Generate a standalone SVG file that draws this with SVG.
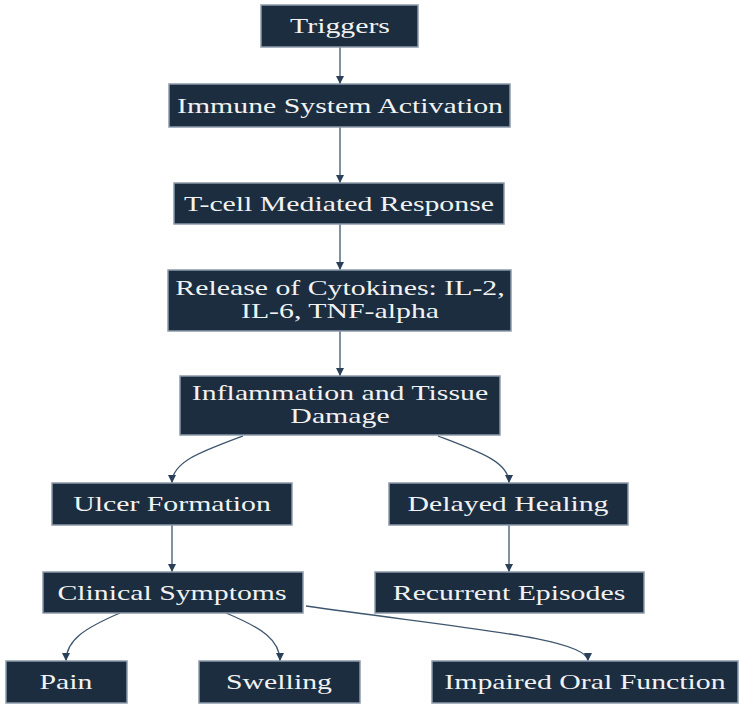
<svg xmlns="http://www.w3.org/2000/svg" width="739" height="704" viewBox="0 0 739 704">
<defs>
<style>
.box{fill:#1b2d3f;stroke:#8c9aab;stroke-width:1.5}
.lbl{font-family:"Liberation Serif","Times New Roman",serif;font-size:21px;fill:#f2f2f2;text-anchor:middle}
.edge{fill:none;stroke:#3e566e;stroke-width:1.3}
</style>
<marker id="ah" viewBox="0 0 10 10" refX="10" refY="5" markerWidth="10" markerHeight="8" markerUnits="userSpaceOnUse" orient="auto">
<path d="M0,0 L10,5 L0,10 Z" fill="#2a4058"/>
</marker>
</defs>
<rect width="739" height="704" fill="#ffffff"/>
<g id="connectors">
<path class="edge" marker-end="url(#ah)" d="M340,47 L340,84"/>
<path class="edge" marker-end="url(#ah)" d="M340,127 L340,183"/>
<path class="edge" marker-end="url(#ah)" d="M340,224 L340,270"/>
<path class="edge" marker-end="url(#ah)" d="M340,331 L340,376"/>
<path class="edge" marker-end="url(#ah)" d="M243,436 C200,452 172,462 172,483"/>
<path class="edge" marker-end="url(#ah)" d="M438,436 C480,452 509,462 509,483"/>
<path class="edge" marker-end="url(#ah)" d="M172,525 L172,572"/>
<path class="edge" marker-end="url(#ah)" d="M509,525 L509,572"/>
<path class="edge" marker-end="url(#ah)" d="M120,613 C85,628 66,640 66,661"/>
<path class="edge" marker-end="url(#ah)" d="M226,613 C262,628 280,640 280,661"/>
<path class="edge" marker-end="url(#ah)" d="M306,606 C460,628 588,638 588,661"/>
</g>
<g id="n-triggers"><rect class="box" x="261" y="5" width="157" height="42"/><text class="lbl" transform="translate(340,33) scale(1.42,1)">Triggers</text></g>
<g id="n-immune"><rect class="box" x="169" y="84" width="341" height="43"/><text class="lbl" transform="translate(340,113) scale(1.42,1)">Immune System Activation</text></g>
<g id="n-tcell"><rect class="box" x="174" y="183" width="330" height="41"/><text class="lbl" transform="translate(339,211) scale(1.42,1)">T-cell Mediated Response</text></g>
<g id="n-release"><rect class="box" x="168" y="270" width="343" height="61"/><text class="lbl" transform="translate(340,295) scale(1.42,1)">Release of Cytokines: IL-2,</text><text class="lbl" transform="translate(340,318) scale(1.42,1)">IL-6, TNF-alpha</text></g>
<g id="n-inflam"><rect class="box" x="180" y="376" width="320" height="59"/><text class="lbl" transform="translate(340,400) scale(1.42,1)">Inflammation and Tissue</text><text class="lbl" transform="translate(340,423) scale(1.42,1)">Damage</text></g>
<g id="n-ulcer"><rect class="box" x="52" y="483" width="240" height="42"/><text class="lbl" transform="translate(172,511) scale(1.42,1)">Ulcer Formation</text></g>
<g id="n-delayed"><rect class="box" x="389" y="483" width="239" height="42"/><text class="lbl" transform="translate(508,511) scale(1.42,1)">Delayed Healing</text></g>
<g id="n-clinical"><rect class="box" x="43" y="572" width="260" height="41"/><text class="lbl" transform="translate(172,600) scale(1.42,1)">Clinical Symptoms</text></g>
<g id="n-recurrent"><rect class="box" x="375" y="572" width="269" height="41"/><text class="lbl" transform="translate(509,600) scale(1.42,1)">Recurrent Episodes</text></g>
<g id="n-pain"><rect class="box" x="6" y="661" width="121" height="42"/><text class="lbl" transform="translate(66,689) scale(1.42,1)">Pain</text></g>
<g id="n-swelling"><rect class="box" x="199" y="661" width="161" height="42"/><text class="lbl" transform="translate(279,689) scale(1.42,1)">Swelling</text></g>
<g id="n-impaired"><rect class="box" x="432" y="661" width="306" height="42"/><text class="lbl" transform="translate(585,689) scale(1.42,1)">Impaired Oral Function</text></g>
</svg>
